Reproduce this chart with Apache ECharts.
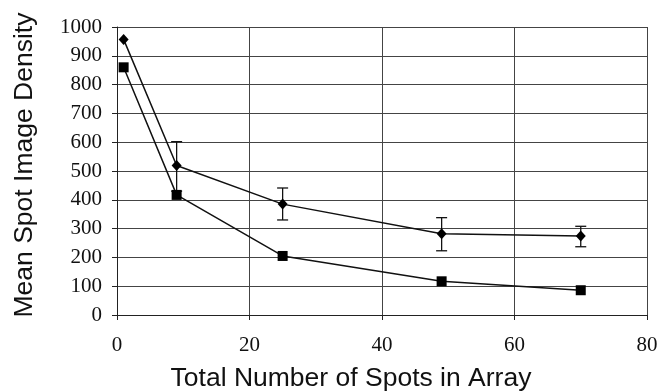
<!DOCTYPE html>
<html><head><meta charset="utf-8">
<script src="https://cdn.jsdelivr.net/npm/echarts@6/dist/echarts.min.js"></script>
<style>html,body{margin:0;padding:0;background:#fff}#c{width:658px;height:392px}</style>
</head><body><div id="c"></div>
<script>
const xValues = [1, 9, 25, 49, 70];
const diamondValues = [957, 519, 385, 282, 274];
const diamondErrLow = [957, 430, 330, 223, 237];
const diamondErrHigh = [957, 602, 441, 338, 308];
const squareValues = [860, 417, 205, 117, 86];
const xTicks = [0, 20, 40, 60, 80];
const yTicks = [0, 100, 200, 300, 400, 500, 600, 700, 800, 900, 1000];

const diamondData = xValues.map((x, i) => [x, diamondValues[i]]);
const squareData = xValues.map((x, i) => [x, squareValues[i]]);
const errData = xValues.map((x, i) => [x, diamondErrLow[i], diamondErrHigh[i]]).filter(d => d[1] !== d[2]);

const chart = echarts.init(document.getElementById('c'));
chart.setOption({
  animation: false,
  backgroundColor: '#fff',
  grid: { left: 117, right: 11, top: 27, bottom: 77, containLabel: false, outerBoundsMode: 'none' },
  xAxis: {
    type: 'value', min: xTicks[0], max: xTicks[xTicks.length - 1], interval: 20,
    name: 'Total Number of Spots in Array', nameLocation: 'middle', nameGap: 50,
    nameTextStyle: { fontFamily: 'Liberation Sans', fontSize: 26.5, color: '#111', padding: [0, 62, 0, 0] },
    axisLine: { show: true, lineStyle: { color: '#222', width: 1 } },
    axisTick: { show: true, length: 5, lineStyle: { color: '#222' } },
    axisLabel: { fontFamily: 'Liberation Serif', fontSize: 21, color: '#111', margin: 20, formatter: v => String(v) },
    splitLine: { show: true, lineStyle: { color: '#444', width: 1 } }
  },
  yAxis: {
    type: 'value', min: yTicks[0], max: yTicks[yTicks.length - 1], interval: 100,
    name: 'Mean Spot Image Density', nameLocation: 'middle', nameGap: 79, nameRotate: 90,
    nameTextStyle: { fontFamily: 'Liberation Sans', fontSize: 26.5, color: '#111', padding: [0, 0, 0, 12] },
    axisLine: { show: true, lineStyle: { color: '#222', width: 1 } },
    axisTick: { show: true, length: 5, lineStyle: { color: '#222' } },
    axisLabel: { fontFamily: 'Liberation Serif', fontSize: 21, color: '#111', margin: 15, formatter: v => String(v) },
    splitLine: { show: true, lineStyle: { color: '#444', width: 1 } }
  },
  series: [
    {
      type: 'custom',
      data: errData,
      z: 3,
      renderItem: function (params, api) {
        const x = api.value(0);
        const lo = api.coord([x, api.value(1)]);
        const hi = api.coord([x, api.value(2)]);
        const hw = 5.5;
        const style = { stroke: '#111', lineWidth: 1.3, fill: null };
        return {
          type: 'group',
          children: [
            { type: 'line', shape: { x1: lo[0], y1: lo[1], x2: hi[0], y2: hi[1] }, style: style },
            { type: 'line', shape: { x1: lo[0] - hw, y1: lo[1], x2: lo[0] + hw, y2: lo[1] }, style: style },
            { type: 'line', shape: { x1: hi[0] - hw, y1: hi[1], x2: hi[0] + hw, y2: hi[1] }, style: style }
          ]
        };
      }
    },
    {
      type: 'line', data: diamondData, symbol: 'diamond', symbolSize: [10, 11],
      lineStyle: { color: '#111', width: 1.5 }, itemStyle: { color: '#000' }, z: 4
    },
    {
      type: 'line', data: squareData, symbol: 'rect', symbolSize: 10,
      lineStyle: { color: '#111', width: 1.5 }, itemStyle: { color: '#000' }, z: 4
    }
  ]
});
</script></body></html>
